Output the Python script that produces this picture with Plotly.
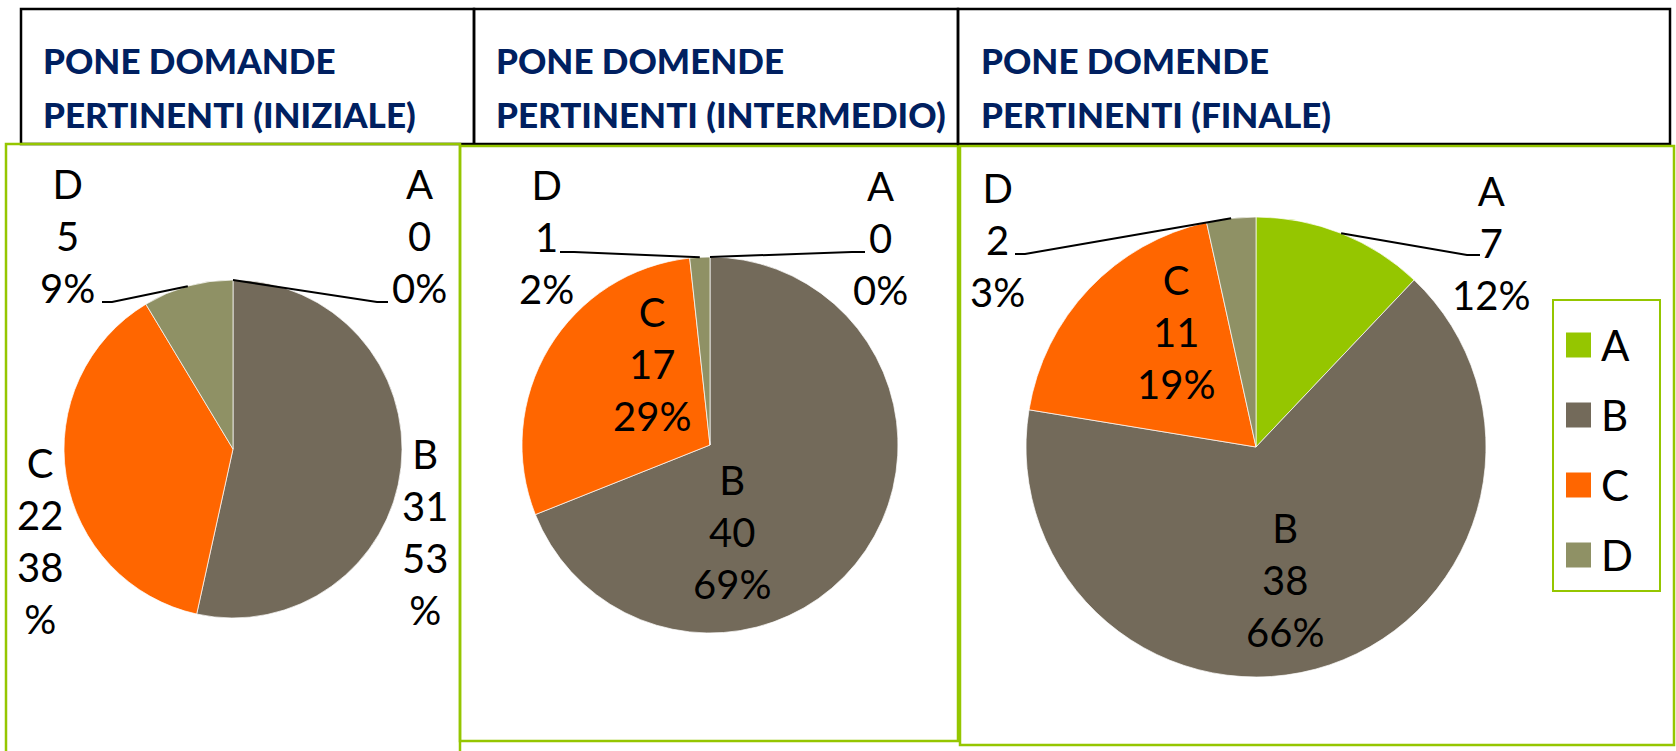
import math
import plotly.graph_objects as go

W, H = 1676, 751

# ---- data ----
categories = ["A", "B", "C", "D"]
colors = ["#95C600", "#736A5A", "#FF6600", "#8F9165"]

iniziale = [0, 31, 22, 5]
intermedio = [0, 40, 17, 1]
finale = [7, 38, 11, 2]

titles = [
    ("PONE DOMANDE", "PERTINENTI (INIZIALE)"),
    ("PONE DOMENDE", "PERTINENTI (INTERMEDIO)"),
    ("PONE DOMENDE", "PERTINENTI (FINALE)"),
]

GREEN = "#95C600"
NAVY = "#002060"
LABEL_FONT = dict(family="Lato", size=40, color="black")


def px(x):
    return x / W


def py(y):
    return 1 - y / H


# layout of each panel in pixels (pie centre/radius, boxes, label spots)
panels = [
    dict(values=iniziale, cx=233, cy=449, r=169, title_x=43,
         tbox=(21, 9, 474, 144), frame=(6, 144, 460, 770),
         labels={
             "A": dict(at=(419, 236), leader=[(377, 302), (388, 302)]),
             "B": dict(at=(425, 532), wrap=True),
             "C": dict(at=(40, 541), wrap=True),
             "D": dict(at=(67, 236), leader=[(112, 302), (102, 302)]),
         }),
    dict(values=intermedio, cx=710, cy=445, r=188, title_x=496,
         tbox=(474, 9, 958, 144), frame=(460, 146, 958, 741),
         labels={
             "A": dict(at=(880, 238), leader=[(852, 252), (865, 252)]),
             "B": dict(at=(732, 532)),
             "C": dict(at=(652, 364)),
             "D": dict(at=(546, 237), leader=[(574, 252), (560, 252)]),
         }),
    dict(values=finale, cx=1256, cy=447, r=230, title_x=981,
         tbox=(958, 9, 1670, 144), frame=(960, 146, 1674, 745),
         labels={
             "A": dict(at=(1491, 243), leader=[(1467, 255), (1480, 255)]),
             "B": dict(at=(1285, 580)),
             "C": dict(at=(1176, 332)),
             "D": dict(at=(997, 240), leader=[(1025, 254), (1015, 254)]),
         }),
]

fig = go.Figure()
shapes = []
annotations = []

for p, (t1, t2) in zip(panels, titles):
    cx, cy, r = p["cx"], p["cy"], p["r"]
    vals = p["values"]
    total = sum(vals)

    fig.add_trace(go.Pie(
        labels=categories,
        values=vals,
        sort=False,
        direction="clockwise",
        rotation=0,
        marker=dict(colors=colors, line=dict(color="white", width=0.7)),
        textinfo="none",
        hoverinfo="label+value+percent",
        showlegend=False,
        domain=dict(x=[px(cx - r), px(cx + r)], y=[py(cy + r), py(cy - r)]),
    ))

    # title box and green frame
    x0, y0, x1, y1 = p["tbox"]
    shapes.append(dict(type="rect", xref="paper", yref="paper",
                       x0=px(x0), y0=py(y0), x1=px(x1), y1=py(y1),
                       line=dict(color="black", width=2.5)))
    x0, y0, x1, y1 = p["frame"]
    shapes.append(dict(type="rect", xref="paper", yref="paper",
                       x0=px(x0), y0=py(y0), x1=px(x1), y1=py(y1),
                       line=dict(color=GREEN, width=2.5)))

    for txt, yy in ((t1, 60), (t2, 114)):
        annotations.append(dict(
            text=txt, x=px(p["title_x"] - 2), y=py(yy), xref="paper", yref="paper",
            xanchor="left", yanchor="middle", showarrow=False,
            font=dict(family="Lato", size=35, color=NAVY, weight=900),
        ))

    # data labels + leader lines
    cum = 0
    for cat, v in zip(categories, vals):
        mid = 2 * math.pi * (cum + v / 2) / total
        cum += v
        spec = p["labels"][cat]
        pct = round(100 * v / total)
        if spec.get("wrap"):
            text = f"{cat}<br>{v}<br>{pct}<br>%"
        else:
            text = f"{cat}<br>{v}<br>{pct}%"
        lx, ly = spec["at"]
        annotations.append(dict(
            text=text, x=px(lx), y=py(ly), xref="paper", yref="paper",
            xanchor="center", yanchor="middle", align="center",
            showarrow=False, font=LABEL_FONT,
        ))
        if "leader" in spec:
            ax = cx + r * math.sin(mid)
            ay = cy - r * math.cos(mid)
            pts = [(ax, ay)] + spec["leader"]
            path = "M " + " L ".join(f"{px(a):.5f},{py(b):.5f}" for a, b in pts)
            shapes.append(dict(type="path", xref="paper", yref="paper", path=path,
                               line=dict(color="black", width=2)))

# legend drawn by hand to get the big square swatches
shapes.append(dict(type="rect", xref="paper", yref="paper",
                   x0=px(1553), y0=py(300), x1=px(1660), y1=py(591),
                   line=dict(color=GREEN, width=2)))
for i, (cat, col) in enumerate(zip(categories, colors)):
    yc = 345 + i * 70
    shapes.append(dict(type="rect", xref="paper", yref="paper",
                       x0=px(1566), y0=py(yc - 12.5), x1=px(1591), y1=py(yc + 12.5),
                       fillcolor=col, line=dict(width=0)))
    annotations.append(dict(
        text=cat, x=px(1599), y=py(yc), xref="paper", yref="paper",
        xanchor="left", yanchor="middle", showarrow=False,
        font=dict(family="Lato", size=42, color="black"),
    ))

fig.update_layout(
    width=W, height=H,
    margin=dict(l=0, r=0, t=0, b=0),
    paper_bgcolor="white",
    plot_bgcolor="white",
    shapes=shapes,
    annotations=annotations,
    showlegend=False,
)

# the page body has a default 8px margin; drop it so pixels line up
fig.write_html("out.html", config={"displayModeBar": False},
               post_script="document.body.style.margin='0px';")
